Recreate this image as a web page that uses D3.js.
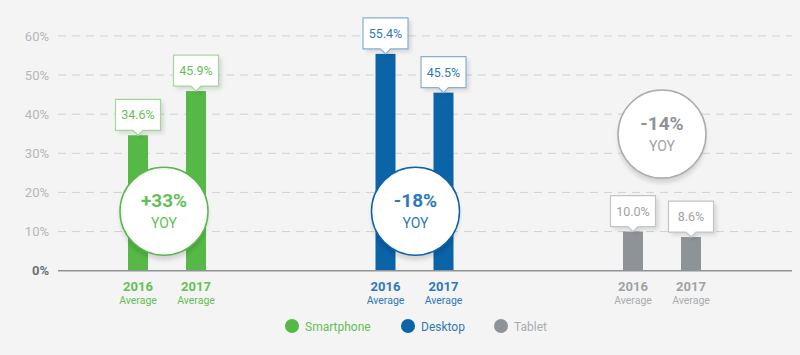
<!DOCTYPE html>
<html><head><meta charset="utf-8">
<script src="https://cdn.jsdelivr.net/npm/d3@7"></script>
<style>
html,body{margin:0;padding:0;background:#f4f4f4;}
svg{display:block;font-family:Roboto,"Open Sans",sans-serif;}
</style></head>
<body><svg id="chart" width="800" height="355"></svg>
<script>
const categories = ["Smartphone", "Desktop", "Tablet"];
const years = ["2016", "2017"];
const values2016 = [34.6, 55.4, 10.0];
const values2017 = [45.9, 45.5, 8.6];
const yoyLabels = ["+33%", "-18%", "-14%"];
const yTicks = [0, 10, 20, 30, 40, 50, 60];
const subLabel = "Average";

const colors = ["#56b947", "#0b63a8", "#8e9398"];
const textColors = ["#64bf56", "#2f78bb", "#9ea2a6"];
const boxStroke = ["#a3d79a", "#86aed6", "#c2c5c8"];
const bubbleLevel = [15.2, 15.2, 34.9];
const bubbleDx = [-3, 1, 0];

const svg = d3.select("#chart");
const defs = svg.append("defs");
const f = defs.append("filter").attr("id","blur").attr("x","-20%").attr("y","-20%").attr("width","140%").attr("height","140%");
f.append("feGaussianBlur").attr("stdDeviation", 2);

const x = d3.scaleBand().domain(categories).range([43.25, 785.75]).padding(0);
const xi = d3.scalePoint().domain(years).range([-29, 29]);
const y = d3.scaleLinear().domain([0, 60]).range([270.7, 35.9]);

// grid
const gridG = svg.append("g");
yTicks.filter(t => t > 0).forEach(t => {
  gridG.append("line").attr("x1", 58).attr("x2", 792).attr("y1", y(t)).attr("y2", y(t))
    .attr("stroke", "#cfd1d3").attr("stroke-width", 1).attr("stroke-dasharray", "8,6");
});
// y labels
const yAxis = d3.axisLeft(y).tickValues(yTicks).tickFormat(d => d + "%").tickSize(0).tickPadding(0);
const ya = svg.append("g").attr("transform", "translate(49,0)").call(yAxis);
ya.select(".domain").remove();
ya.selectAll("text").attr("font-size", 13).attr("font-family", "Roboto, sans-serif")
  .attr("fill", d => d === 0 ? "#6b7077" : "#b3b7bb")
  .attr("font-weight", d => d === 0 ? "bold" : "normal");

const data = [];
categories.forEach((c, i) => {
  data.push({cat: c, ci: i, year: years[0], v: values2016[i]});
  data.push({cat: c, ci: i, year: years[1], v: values2017[i]});
});
const cx = d => x(d.cat) + x.bandwidth() / 2 + xi(d.year);
const bw = 20;

// bars
svg.append("g").selectAll("rect").data(data).join("rect")
  .attr("x", d => cx(d) - bw / 2).attr("width", bw)
  .attr("y", d => y(d.v)).attr("height", d => y(0) - y(d.v))
  .attr("fill", d => colors[d.ci]);

// baseline
svg.append("line").attr("x1", 58).attr("x2", 792).attr("y1", y(0)).attr("y2", y(0))
  .attr("stroke", "#8e9398").attr("stroke-width", 1.5);

// callout boxes
const bw2 = 45, bh = 31, gap = 5, tri = 5;
const cg = svg.append("g").selectAll("g").data(data).join("g")
  .attr("transform", d => `translate(${cx(d)},${y(d.v)})`);
function calloutPath(dx, dy) {
  const l = -bw2 / 2 + dx, r = bw2 / 2 + dx, b = -gap + dy, t = -gap - bh + dy;
  return `M${l},${t}H${r}V${b}H${dx + tri}L${dx},${dy}L${dx - tri},${b}H${l}Z`;
}
cg.append("path").attr("d", calloutPath(3, 3)).attr("fill", "#000").attr("opacity", 0.12).attr("filter", "url(#blur)");
cg.append("path").attr("d", calloutPath(0, 0)).attr("fill", "#fff")
  .attr("stroke", d => boxStroke[d.ci]).attr("stroke-width", 1.2);
cg.append("text").attr("y", -gap - bh / 2 + 4.5).attr("text-anchor", "middle")
  .attr("font-size", 12.5).attr("fill", d => textColors[d.ci])
  .text(d => d.v.toFixed(1) + "%");

// x labels
const xl = svg.append("g").selectAll("g").data(data).join("g")
  .attr("transform", d => `translate(${cx(d)},0)`);
xl.append("text").attr("y", 291).attr("text-anchor", "middle").attr("font-size", 13)
  .attr("font-weight", "bold").attr("fill", d => d.ci === 2 ? "#9ea2a6" : textColors[d.ci]).text(d => d.year);
xl.append("text").attr("y", 304).attr("text-anchor", "middle").attr("font-size", 10.5)
  .attr("fill", d => d.ci === 2 ? "#a9adb0" : textColors[d.ci]).text(subLabel);

// bubbles
const bub = svg.append("g").selectAll("g").data(categories).join("g")
  .attr("transform", (c, i) => `translate(${x(c) + x.bandwidth() / 2 + bubbleDx[i]},${y(bubbleLevel[i])})`);
bub.append("circle").attr("cy", 5).attr("r", 44).attr("fill", "#000").attr("opacity", 0.13).attr("filter", "url(#blur)");
bub.append("circle").attr("r", 44).attr("fill", "#fff")
  .attr("stroke", (c, i) => colors[i] === "#8e9398" ? "#a9adb0" : colors[i]).attr("stroke-width", 1.5);
bub.append("text").attr("y", -4).attr("text-anchor", "middle").attr("font-size", 19).attr("font-weight", "bold")
  .attr("fill", (c, i) => i === 2 ? "#8e9398" : textColors[i]).text((c, i) => yoyLabels[i]);
bub.append("text").attr("y", 17).attr("text-anchor", "middle").attr("font-size", 14)
  .attr("fill", (c, i) => i === 2 ? "#9ea2a6" : textColors[i]).text("YOY");

// legend
const legX = [292, 408, 501];
const lg = svg.append("g").selectAll("g").data(categories).join("g")
  .attr("transform", (c, i) => `translate(${legX[i]},326)`);
lg.append("circle").attr("r", 7).attr("fill", (c, i) => colors[i]);
lg.append("text").attr("x", 13).attr("y", 4.5).attr("font-size", 12)
  .attr("fill", (c, i) => i === 2 ? "#a9adb0" : textColors[i]).text(c => c);
</script></body></html>
